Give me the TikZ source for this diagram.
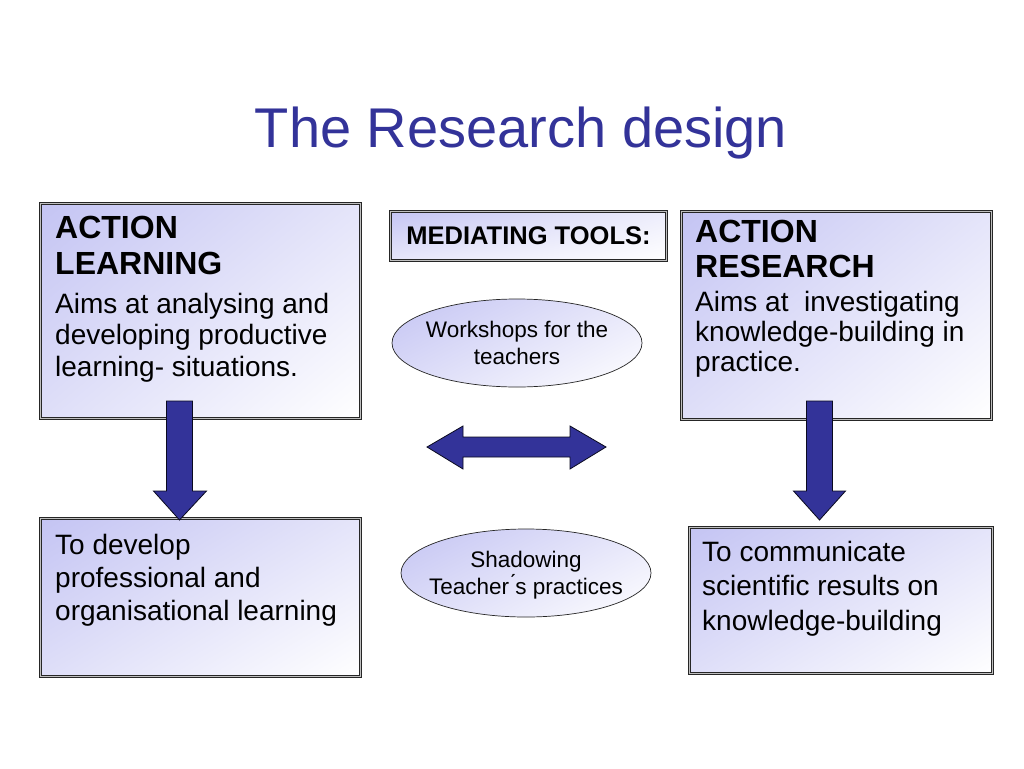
\documentclass[tikz,border=0pt]{standalone}
\usepackage{fontspec}
\setmainfont{Liberation Sans}
\usetikzlibrary{calc,shapes.geometric,shadings}
\definecolor{titleblue}{RGB}{51,51,153}
\definecolor{lav}{RGB}{196,196,243}
\definecolor{arrowblue}{RGB}{51,51,153}
\begin{document}
\begin{tikzpicture}[x=1pt,y=-1pt,
  box/.style={draw=black!85, double=black!25, double distance=1.8pt, line width=1pt,
    upper left=lav, upper right=lav!45!white, lower left=lav!55!white, lower right=white,
    inner sep=0pt, anchor=north west},
  tool/.style={ellipse, draw=black!85, line width=0.7pt, minimum width=250pt, minimum height=88pt,
    upper left=lav, upper right=lav!40!white, lower left=lav!60!white, lower right=white,
    inner xsep=-12pt, inner ysep=0pt, align=center, font=\fontsize{22.5}{27}\selectfont},
  head/.style={anchor=north west, inner sep=0pt, align=left, font=\bfseries\fontsize{32}{36}\selectfont},
  body/.style={anchor=north west, inner sep=0pt, align=left, font=\fontsize{28}{31.5}\selectfont},
  blockarrow/.style={fill=arrowblue, draw=black!80!arrowblue, line width=0.8pt, line join=miter}
]
\useasboundingbox (0,0) rectangle (1024,768);
\fill[white] (0,0) rectangle (1024,768);

\node[text=titleblue, font=\fontsize{56}{60}\selectfont, anchor=base] (title) at (521,147) {The Research design};

% boxes
\node[box, minimum width=320pt, minimum height=215pt] (al) at (40,203) {};
\node[box, minimum width=310pt, minimum height=208pt] (ar) at (681,211) {};
\node[box, minimum width=320pt, minimum height=158pt] (bl) at (40,518) {};
\node[box, minimum width=303pt, minimum height=146pt] (br) at (689,527) {};
\node[box, minimum width=276pt, minimum height=49pt, upper right=lav!30!white, lower left=lav!40!white] (mt) at (390,211) {};

% texts
\node[head] (alh) at (55,216) {ACTION\\LEARNING};
\node[body] (alb) at (55,293) {Aims at analysing and\\developing productive\\learning- situations.};
\node[head, font=\bfseries\fontsize{32}{34.5}\selectfont] (arh) at (695,220) {ACTION\\RESEARCH};
\node[body, font=\fontsize{28}{30}\selectfont] (arb) at (695,291) {Aims at \ investigating\\knowledge-building in\\practice.};
\node[body, font=\fontsize{28}{33}\selectfont] (blb) at (55,534) {To develop\\professional and\\organisational learning};
\node[body, font=\fontsize{28}{34.5}\selectfont] (brb) at (702,541) {To communicate\\scientific results on\\knowledge-building};
\node[anchor=center, inner sep=0pt, font=\bfseries\fontsize{25.5}{28}\selectfont] (mtt) at (mt.center) {MEDIATING TOOLS:};

% tools
\node[tool] (w) at (517,343) {Workshops for the\\teachers};
\node[tool, text depth=-3pt] (s) at (526,573) {Shadowing\\Teacher\'{}s practices};

% down arrows
\draw[blockarrow] ($(al.south)+(-34,-18)$) -- ($(al.south)+(-8,-18)$) -- ($(al.south)+(-8,72)$)
  -- ($(al.south)+(6,72)$) -- ($(bl.north)+(-21,2)$) -- ($(al.south)+(-47,72)$)
  -- ($(al.south)+(-34,72)$) -- cycle;
\draw[blockarrow] ($(ar.south)+(-30,-19)$) -- ($(ar.south)+(-4,-19)$) -- ($(ar.south)+(-4,71)$)
  -- ($(ar.south)+(9,71)$) -- ($(br.north)+(-21.5,-7)$) -- ($(ar.south)+(-43,71)$)
  -- ($(ar.south)+(-30,71)$) -- cycle;

% double arrow
\coordinate (dc) at (516.5,447);
\draw[blockarrow] ($(dc)+(-89.5,0)$) -- ($(dc)+(-53.5,-21)$) -- ($(dc)+(-53.5,-10)$)
  -- ($(dc)+(53.5,-10)$) -- ($(dc)+(53.5,-21)$) -- ($(dc)+(89.5,0)$)
  -- ($(dc)+(53.5,22)$) -- ($(dc)+(53.5,10)$) -- ($(dc)+(-53.5,10)$)
  -- ($(dc)+(-53.5,22)$) -- cycle;
\end{tikzpicture}
\end{document}
